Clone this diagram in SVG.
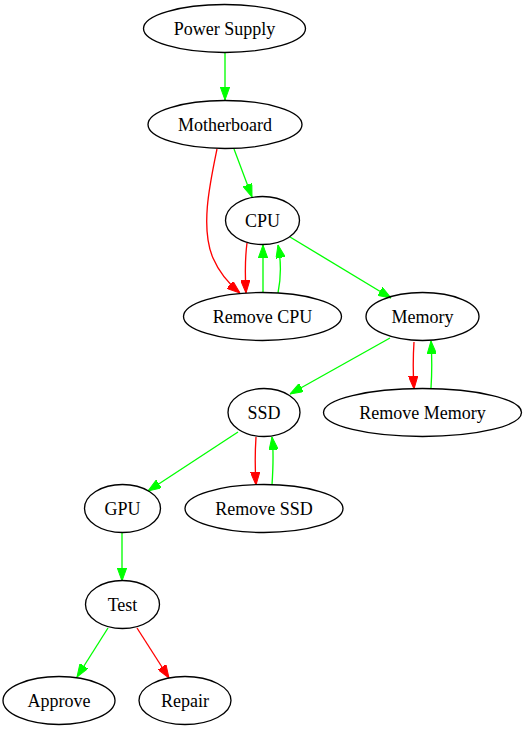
<svg xmlns="http://www.w3.org/2000/svg" width="527" height="731" viewBox="0 0 527 731">
<style>
.n ellipse{fill:none;stroke:#000;stroke-width:1.33}
.n text{font-family:"Liberation Serif","Times New Roman",serif;font-size:18px;text-anchor:middle;fill:#000}
.g{fill:none;stroke:#00ff00;stroke-width:1.33;marker-end:url(#ag)}
.r{fill:none;stroke:#ff0000;stroke-width:1.33;marker-end:url(#ar)}
</style>
<defs>
<marker id="ag" viewBox="0 0 13 9.4" refX="13" refY="4.7" markerWidth="13" markerHeight="9.4" markerUnits="userSpaceOnUse" orient="auto"><path d="M0,0L13,4.7L0,9.4z" fill="#00ff00" stroke="#00ff00" stroke-width="1"/></marker>
<marker id="ar" viewBox="0 0 13 9.4" refX="13" refY="4.7" markerWidth="13" markerHeight="9.4" markerUnits="userSpaceOnUse" orient="auto"><path d="M0,0L13,4.7L0,9.4z" fill="#ff0000" stroke="#ff0000" stroke-width="1"/></marker>
</defs>
<rect width="527" height="731" fill="#fff"/>
<g id="edges">
<path class="g" d="M225,53L225,100"/>
<path class="g" d="M234,149L252,197"/>
<path class="r" d="M217,149C210,183 200,228 213,258C219,272 229,284 240,293"/>
<path class="r" d="M247,243C245,258 245,275 246,293"/>
<path class="g" d="M263,292L263,245"/>
<path class="g" d="M278,293C281,278 281,260 278,245"/>
<path class="g" d="M290,237L391,298"/>
<path class="g" d="M390,338L290,394"/>
<path class="r" d="M414,342C413,357 413,373 414,389"/>
<path class="g" d="M431,388C432,373 432,357 431,341"/>
<path class="g" d="M238,432L148,491"/>
<path class="r" d="M256,437C255,452 255,469 256,485"/>
<path class="g" d="M272,485C273,470 274,453 272,437"/>
<path class="g" d="M122,533L122,581"/>
<path class="g" d="M108,628L77,677"/>
<path class="r" d="M137,628L169,678"/>
</g>
<g id="power_supply" class="n"><ellipse cx="224.5" cy="28.5" rx="81" ry="24"/><text x="224.5" y="34.5">Power Supply</text></g>
<g id="motherboard" class="n"><ellipse cx="225" cy="124.5" rx="77" ry="24"/><text x="225" y="130.5">Motherboard</text></g>
<g id="cpu" class="n"><ellipse cx="262.5" cy="220.5" rx="37" ry="24"/><text x="262.5" y="226.5">CPU</text></g>
<g id="remove_cpu" class="n"><ellipse cx="262.5" cy="316.5" rx="79" ry="24"/><text x="262.5" y="322.5">Remove CPU</text></g>
<g id="memory" class="n"><ellipse cx="422.5" cy="316.5" rx="56.5" ry="24"/><text x="422.5" y="322.5">Memory</text></g>
<g id="ssd" class="n"><ellipse cx="264" cy="412.5" rx="36" ry="24"/><text x="264" y="418.5">SSD</text></g>
<g id="remove_memory" class="n"><ellipse cx="422.5" cy="412.5" rx="99" ry="24"/><text x="422.5" y="418.5">Remove Memory</text></g>
<g id="gpu" class="n"><ellipse cx="122.5" cy="508.5" rx="38" ry="24"/><text x="122.5" y="514.5">GPU</text></g>
<g id="remove_ssd" class="n"><ellipse cx="264" cy="508.5" rx="79" ry="24"/><text x="264" y="514.5">Remove SSD</text></g>
<g id="test" class="n"><ellipse cx="122.5" cy="604.5" rx="37" ry="24"/><text x="122.5" y="610.5">Test</text></g>
<g id="approve" class="n"><ellipse cx="59" cy="700.5" rx="56" ry="24"/><text x="59" y="706.5">Approve</text></g>
<g id="repair" class="n"><ellipse cx="185" cy="700.5" rx="46" ry="24"/><text x="185" y="706.5">Repair</text></g>
</svg>
